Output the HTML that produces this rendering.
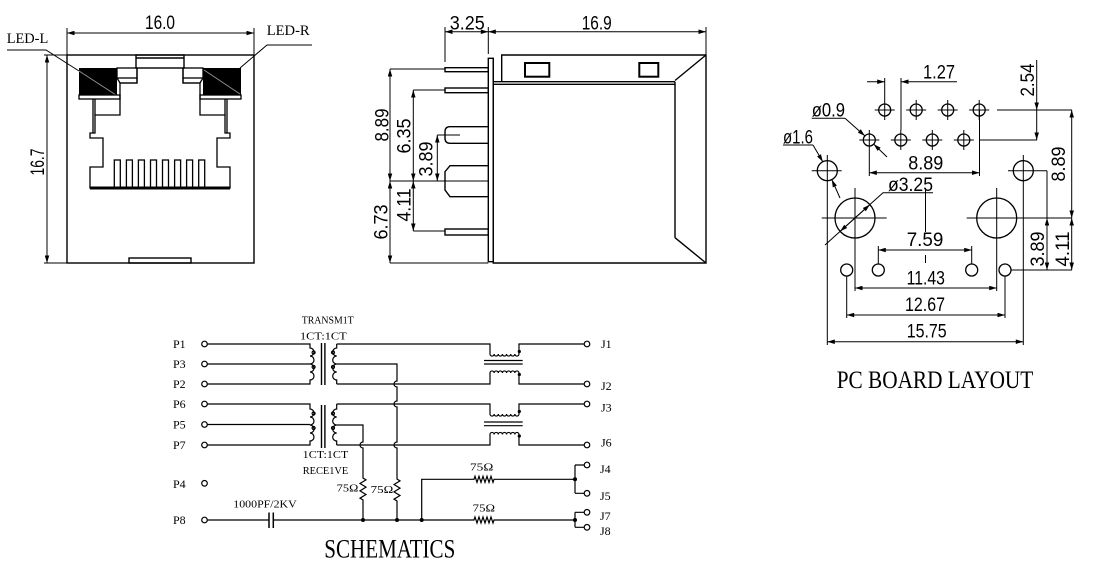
<!DOCTYPE html>
<html><head><meta charset="utf-8">
<style>
html,body{margin:0;padding:0;background:#fff;}
svg{display:block;}
.d{font-family:"Liberation Sans",sans-serif;font-size:19px;fill:#000;}
.s{font-family:"Liberation Serif",serif;fill:#000;}
</style></head><body>
<svg width="1117" height="573" viewBox="0 0 1117 573" xmlns="http://www.w3.org/2000/svg">
<defs>
<marker id="a" viewBox="0 0 10 6" refX="10" refY="3" markerWidth="9" markerHeight="4.5" markerUnits="userSpaceOnUse" orient="auto-start-reverse"><path d="M0,0L10,3L0,6z" fill="#000"/></marker>
</defs>
<rect width="1117" height="573" fill="#fff"/>

<!-- ================= FRONT VIEW ================= -->
<g fill="none" stroke="#000" stroke-width="1.4">
<rect x="67" y="55" width="187" height="208"/>
<rect x="136" y="55" width="48" height="13"/>
<line x1="136" y1="58" x2="184" y2="58"/>
<rect x="129" y="258" width="62" height="5"/>
</g>
<!-- leaders -->
<g fill="none" stroke="#000" stroke-width="1">
<path d="M7,50 H46 L79,71"/>
<path d="M312,45 H267 L240,68"/>
</g>
<!-- LEDs -->
<rect x="79" y="68" width="38" height="27" fill="#000"/>
<rect x="203" y="68" width="38" height="27" fill="#000"/>
<g fill="none" stroke="#999" stroke-width="0.8">
<path d="M79,71 L116,95"/>
<path d="M204,70 L240,94"/>
</g>
<g fill="none" stroke="#000" stroke-width="1.3">
<rect x="79" y="95" width="41" height="4"/>
<rect x="200" y="95" width="41" height="4"/>
<rect x="117" y="68" width="20" height="10"/>
<path d="M117,78 L120,83 H137 V78"/>
<rect x="183" y="68" width="20" height="10"/>
<path d="M203,78 L200,83 H183 V78"/>
<path d="M137,68 V83 H120 V115 H95 V133 H90 V138 H103 V167 H90 V188 H230 V167 H217 V138 H230 V133 H225 V115 H200 V83 H183 V68"/>
<path d="M93,99 V133 M95,99 V115 M227,99 V133 M225,99 V115"/>
<rect x="114.3" y="160" width="6" height="28"/>
<rect x="126.4" y="160" width="6" height="28"/>
<rect x="138.4" y="160" width="6" height="28"/>
<rect x="150.5" y="160" width="6" height="28"/>
<rect x="162.5" y="160" width="6" height="28"/>
<rect x="174.6" y="160" width="6" height="28"/>
<rect x="186.6" y="160" width="6" height="28"/>
<rect x="198.7" y="160" width="6" height="28"/>
</g>
<path d="M90,188 H230" stroke="#000" stroke-width="3"/>
<!-- front dims -->
<g fill="none" stroke="#000" stroke-width="1">
<path d="M67,28 V55 M254,28 V55 M44,55 H67 M44,263 H67"/>
<line x1="67" y1="33" x2="254" y2="33" marker-start="url(#a)" marker-end="url(#a)"/>
<line x1="47" y1="55" x2="47" y2="263" marker-start="url(#a)" marker-end="url(#a)"/>
</g>
<text class="d" x="160" y="29" text-anchor="middle" font-size="18" textLength="30" lengthAdjust="spacingAndGlyphs">16.0</text>
<text class="d" transform="translate(37.5,162) rotate(-90)" y="6.5" text-anchor="middle" font-size="18" textLength="27" lengthAdjust="spacingAndGlyphs">16.7</text>
<text class="s" x="6.7" y="43" font-size="15" textLength="41.6" lengthAdjust="spacingAndGlyphs">LED-L</text>
<text class="s" x="266.7" y="35" font-size="15" textLength="43" lengthAdjust="spacingAndGlyphs">LED-R</text>

<!-- ================= SIDE VIEW ================= -->
<g fill="none" stroke="#000" stroke-width="1.4">
<rect x="488.3" y="58.3" width="5" height="203.4"/>
<path d="M493.3,58.3 V263 H706 V55 H501.7 V81.7"/>
<path d="M493.3,81.7 H675 M493.3,84.3 H675"/>
<path d="M675,81.7 V237.7 M706,55 L675,80.5 M675,237.7 L706,263"/>
<rect x="525" y="63" width="24.3" height="13.7" stroke-width="2"/>
<rect x="639.3" y="63" width="19" height="13.7" stroke-width="2"/>
<rect x="445" y="67.7" width="43.3" height="4"/>
<rect x="445" y="88" width="43.3" height="4.7"/>
<path d="M488.3,126.7 H450 Q445,126.7 445,131.7 V138.3 Q445,143.3 450,143.3 H488.3"/>
<path d="M488.3,165.7 H450 L445,171.7 V190 L450,196.7 H488.3"/>
<rect x="445" y="229" width="43.3" height="6"/>
</g>
<g fill="none" stroke="#000" stroke-width="1">
<path d="M445,27 V62 M488.3,27 V54 M706,27 V55"/>
<line x1="445" y1="31.7" x2="488.3" y2="31.7" marker-start="url(#a)" marker-end="url(#a)"/>
<line x1="488.3" y1="31.7" x2="706" y2="31.7" marker-start="url(#a)" marker-end="url(#a)"/>
<path d="M390,69 H445 M413.3,90 H445 M437.3,135 H460 M390,181 H488.3 M413.3,231 H445 M390,263 H488.3"/>
<line x1="390" y1="69" x2="390" y2="181" marker-start="url(#a)" marker-end="url(#a)"/>
<line x1="390" y1="181" x2="390" y2="263" marker-start="url(#a)" marker-end="url(#a)"/>
<line x1="413.3" y1="90" x2="413.3" y2="181" marker-start="url(#a)" marker-end="url(#a)"/>
<line x1="413.3" y1="181" x2="413.3" y2="231" marker-start="url(#a)" marker-end="url(#a)"/>
<line x1="437.3" y1="135" x2="437.3" y2="181" marker-start="url(#a)" marker-end="url(#a)"/>
</g>
<text class="d" x="467.3" y="29.3" text-anchor="middle" textLength="35" lengthAdjust="spacingAndGlyphs">3.25</text>
<text class="d" x="596.7" y="29.3" text-anchor="middle" textLength="30" lengthAdjust="spacingAndGlyphs">16.9</text>
<text class="d" transform="translate(381.7,125) rotate(-90)" y="6.7" text-anchor="middle" textLength="33" lengthAdjust="spacingAndGlyphs">8.89</text>
<text class="d" transform="translate(404,136) rotate(-90)" y="6.7" text-anchor="middle" textLength="35" lengthAdjust="spacingAndGlyphs">6.35</text>
<text class="d" transform="translate(426,159) rotate(-90)" y="6.7" text-anchor="middle" textLength="35" lengthAdjust="spacingAndGlyphs">3.89</text>
<text class="d" transform="translate(404,205) rotate(-90)" y="6.7" text-anchor="middle" textLength="33" lengthAdjust="spacingAndGlyphs">4.11</text>
<text class="d" transform="translate(381,222) rotate(-90)" y="6.7" text-anchor="middle" textLength="35" lengthAdjust="spacingAndGlyphs">6.73</text>

<!-- ================= PCB LAYOUT ================= -->
<g fill="none" stroke="#000" stroke-width="1.3">
<circle cx="884.7" cy="110" r="6"/><circle cx="916.2" cy="110" r="6"/><circle cx="947.7" cy="110" r="6"/><circle cx="979.2" cy="110" r="6"/>
<circle cx="869.3" cy="140" r="6"/><circle cx="900.8" cy="140" r="6"/><circle cx="932.3" cy="140" r="6"/><circle cx="963.8" cy="140" r="6"/>
<circle cx="855" cy="218" r="20"/><circle cx="996.7" cy="218" r="20"/>
<circle cx="827.3" cy="170.7" r="10"/><circle cx="1023.3" cy="170.7" r="10"/>
<circle cx="846.7" cy="270" r="6"/><circle cx="878.3" cy="270" r="6"/><circle cx="971.7" cy="270" r="6"/><circle cx="1005" cy="270" r="6"/>
</g>
<g fill="none" stroke="#000" stroke-width="1">
<!-- crosshairs -->
<path d="M874.7,110 H894.7 M884.7,100 V120 M906.2,110 H926.2 M916.2,100 V120 M937.7,110 H957.7 M947.7,100 V120 M969.2,110 H989.2 M979.2,100 V120"/>
<path d="M859.3,140 H879.3 M869.3,130 V150 M890.8,140 H910.8 M900.8,130 V150 M922.3,140 H942.3 M932.3,130 V150 M953.8,140 H973.8 M963.8,130 V150"/>
<path d="M821.7,218 H886.7 M966.7,218 H1072 M855,188 V291 M996.7,188 V291"/>
<path d="M811.7,170.7 H841.7 M1008,170.7 H1047 M827.3,155 V345 M1023.3,155 V345"/>
<!-- ext lines -->
<path d="M884.7,78 V100 M901,78 V130 M997,110 H1072 M979.5,140 H1037 M979.5,110 V176 M869.3,150 V176"/>
<path d="M878.3,246 V264 M971.7,246 V264 M846.7,276 V318 M1005,276 V318 M1011,270 H1072"/>
<path d="M925.5,188 V232 M925.5,255 V263"/>
<!-- dims -->
<line x1="867" y1="81.7" x2="884.7" y2="81.7" marker-end="url(#a)"/>
<line x1="957" y1="81.7" x2="901" y2="81.7" marker-end="url(#a)"/>
<line x1="1036.7" y1="60" x2="1036.7" y2="110" marker-end="url(#a)"/>
<line x1="1036.7" y1="110" x2="1036.7" y2="140" marker-end="url(#a)"/>
<line x1="1071.7" y1="110" x2="1071.7" y2="218" marker-start="url(#a)" marker-end="url(#a)"/>
<line x1="1071.7" y1="218" x2="1071.7" y2="270" marker-start="url(#a)" marker-end="url(#a)"/>
<path d="M1047,170.7 V218"/>
<line x1="1047" y1="218" x2="1047" y2="270" marker-start="url(#a)" marker-end="url(#a)"/>
<line x1="869.3" y1="172.7" x2="979.5" y2="172.7" marker-start="url(#a)" marker-end="url(#a)"/>
<line x1="878.3" y1="250" x2="971.7" y2="250" marker-start="url(#a)" marker-end="url(#a)"/>
<line x1="855" y1="288" x2="996.7" y2="288" marker-start="url(#a)" marker-end="url(#a)"/>
<line x1="846.7" y1="315" x2="1005" y2="315" marker-start="url(#a)" marker-end="url(#a)"/>
<line x1="827.3" y1="341.7" x2="1023.3" y2="341.7" marker-start="url(#a)" marker-end="url(#a)"/>
<!-- leaders -->
<path d="M811.7,118.3 H845"/>
<line x1="845" y1="118.3" x2="864.9" y2="135.9" marker-end="url(#a)"/>
<line x1="887" y1="157" x2="873.7" y2="144.1" marker-end="url(#a)"/>
<path d="M783,145 H813"/>
<line x1="813" y1="145" x2="822.8" y2="161.8" marker-end="url(#a)"/>
<line x1="840" y1="198" x2="831.8" y2="179.6" marker-end="url(#a)"/>
<path d="M933,192.7 H883 L825,245"/>
<line x1="855" y1="218" x2="869.9" y2="204.6" marker-end="url(#a)"/>
<line x1="855" y1="218" x2="840.1" y2="231.4" marker-end="url(#a)"/>
</g>
<text class="d" x="939" y="78.3" text-anchor="middle" textLength="32" lengthAdjust="spacingAndGlyphs">1.27</text>
<text class="d" x="811.7" y="116.7" textLength="33.3" lengthAdjust="spacingAndGlyphs">ø0.9</text>
<text class="d" x="783" y="143.5" textLength="30" lengthAdjust="spacingAndGlyphs">ø1.6</text>
<text class="d" x="925.8" y="169.3" text-anchor="middle" textLength="35" lengthAdjust="spacingAndGlyphs">8.89</text>
<text class="d" x="888" y="191" textLength="45" lengthAdjust="spacingAndGlyphs">ø3.25</text>
<text class="d" x="925" y="246" text-anchor="middle" textLength="36.6" lengthAdjust="spacingAndGlyphs">7.59</text>
<text class="d" x="925.8" y="284.3" text-anchor="middle" textLength="38.3" lengthAdjust="spacingAndGlyphs">11.43</text>
<text class="d" x="925" y="311" text-anchor="middle" textLength="40" lengthAdjust="spacingAndGlyphs">12.67</text>
<text class="d" x="926.7" y="337.7" text-anchor="middle" textLength="40" lengthAdjust="spacingAndGlyphs">15.75</text>
<text class="d" transform="translate(1027.3,80) rotate(-90)" y="6.7" text-anchor="middle" textLength="33" lengthAdjust="spacingAndGlyphs">2.54</text>
<text class="d" transform="translate(1058.3,164) rotate(-90)" y="6.7" text-anchor="middle" textLength="35" lengthAdjust="spacingAndGlyphs">8.89</text>
<text class="d" transform="translate(1037.3,249) rotate(-90)" y="6.7" text-anchor="middle" textLength="35" lengthAdjust="spacingAndGlyphs">3.89</text>
<text class="d" transform="translate(1062.5,249) rotate(-90)" y="6.7" text-anchor="middle" textLength="35" lengthAdjust="spacingAndGlyphs">4.11</text>
<text class="s" x="836.7" y="388" font-size="25" textLength="196.6" lengthAdjust="spacingAndGlyphs">PC BOARD LAYOUT</text>

<!-- ================= SCHEMATIC ================= -->
<g fill="none" stroke="#000" stroke-width="1.2">
<!-- P terminals -->
<circle cx="204.5" cy="344" r="2.8"/><circle cx="204.5" cy="364" r="2.8"/><circle cx="204.5" cy="384" r="2.8"/>
<circle cx="204.5" cy="404" r="2.8"/><circle cx="204.5" cy="424.5" r="2.8"/><circle cx="204.5" cy="445" r="2.8"/>
<circle cx="204.5" cy="483.3" r="2.8"/><circle cx="204.5" cy="520" r="2.8"/>
<!-- transformer 1 primary -->
<path d="M207.3,344 H310 V348 a4,4 0 0 1 0,8 a4,4 0 0 1 0,8 a4,4 0 0 1 0,8 a4,4 0 0 1 0,8 V384 H207.3"/>
<path d="M207.3,364 H310"/>
<!-- transformer 1 secondary -->
<path d="M336.7,344 V348 a4,4 0 0 0 0,8 a4,4 0 0 0 0,8 a4,4 0 0 0 0,8 a4,4 0 0 0 0,8 V384"/>
<path d="M321.5,343 V385 M324.9,343 V385" stroke-width="1.4"/>
<circle cx="313.6" cy="352.5" r="1.5"/><circle cx="313.6" cy="367" r="1.5"/>
<circle cx="333" cy="352.5" r="1.5"/><circle cx="333" cy="367" r="1.5"/>
<!-- transformer 2 primary -->
<path d="M207.3,404 H310 V409 a4,4 0 0 1 0,8 a4,4 0 0 1 0,8 a4,4 0 0 1 0,8 a4,4 0 0 1 0,8 V445 H207.3"/>
<path d="M207.3,424.5 H310"/>
<path d="M336.7,404 V409 a4,4 0 0 0 0,8 a4,4 0 0 0 0,8 a4,4 0 0 0 0,8 a4,4 0 0 0 0,8 V445"/>
<path d="M321.5,405 V448 M324.9,405 V448" stroke-width="1.4"/>
<circle cx="313.6" cy="413.5" r="1.5"/><circle cx="313.6" cy="428" r="1.5"/>
<circle cx="333" cy="413.5" r="1.5"/><circle cx="333" cy="428" r="1.5"/>
<!-- choke 1 -->
<path d="M336.7,344 H490 V354 a2.07,2.07 0 0 0 4.14,0 a2.07,2.07 0 0 0 4.14,0 a2.07,2.07 0 0 0 4.14,0 a2.07,2.07 0 0 0 4.14,0 a2.07,2.07 0 0 0 4.14,0 a2.07,2.07 0 0 0 4.14,0 a2.07,2.07 0 0 0 4.14,0 V344 H584.2"/>
<path d="M336.7,384 H490 V373 a2.07,2.07 0 0 1 4.14,0 a2.07,2.07 0 0 1 4.14,0 a2.07,2.07 0 0 1 4.14,0 a2.07,2.07 0 0 1 4.14,0 a2.07,2.07 0 0 1 4.14,0 a2.07,2.07 0 0 1 4.14,0 a2.07,2.07 0 0 1 4.14,0 V384 H584.2"/>
<path d="M484,360.5 H522.7 M484,364 H522.7"/>
<!-- choke 2 -->
<path d="M336.7,404 H490 V414 a2.07,2.07 0 0 0 4.14,0 a2.07,2.07 0 0 0 4.14,0 a2.07,2.07 0 0 0 4.14,0 a2.07,2.07 0 0 0 4.14,0 a2.07,2.07 0 0 0 4.14,0 a2.07,2.07 0 0 0 4.14,0 a2.07,2.07 0 0 0 4.14,0 V404 H584.2"/>
<path d="M336.7,445 H490 V434.5 a2.07,2.07 0 0 1 4.14,0 a2.07,2.07 0 0 1 4.14,0 a2.07,2.07 0 0 1 4.14,0 a2.07,2.07 0 0 1 4.14,0 a2.07,2.07 0 0 1 4.14,0 a2.07,2.07 0 0 1 4.14,0 a2.07,2.07 0 0 1 4.14,0 V445 H584.2"/>
<path d="M484,422 H522.7 M484,425.7 H522.7"/>
<!-- center-tap wires with hops -->
<path d="M336.7,364 H397 V381 a3,3 0 0 0 0,6 V401 a3,3 0 0 0 0,6 V442 a3,3 0 0 0 0,6 V479 l3,1.83 l-6,3.67 l6,3.67 l-6,3.67 l6,3.67 l-6,3.67 l3,1.83 V520"/>
<path d="M336.7,425 H363 V442 a3,3 0 0 0 0,6 V478 l3,1.83 l-6,3.67 l6,3.67 l-6,3.67 l6,3.67 l-6,3.67 l3,1.83 V520"/>
<!-- P8 line & capacitor -->
<path d="M207.3,520 H269 M273.3,520 H474 l1,-3 l2,6 l2,-6 l2,6 l2,-6 l2,6 l2,-6 l2,6 l2,-6 l2,6 l1,-3 H575"/>
<path d="M269,512.5 V528 M273.3,512.5 V528" stroke-width="1.5"/>
<path d="M421.7,520 V479.3 H474 l1,-3 l2,6 l2,-6 l2,6 l2,-6 l2,6 l2,-6 l2,6 l2,-6 l2,6 l1,-3 H575"/>
<path d="M575,465 V493.3 M575,465 H584.2 M575,493.3 H584.2"/>
<path d="M575,512.3 V527.3 M575,512.3 H584.2 M575,527.3 H584.2"/>
<!-- J terminals -->
<circle cx="587" cy="344" r="2.8"/><circle cx="587" cy="384" r="2.8"/><circle cx="587" cy="404" r="2.8"/><circle cx="587" cy="445" r="2.8"/>
<circle cx="587" cy="465" r="2.8"/><circle cx="587" cy="493.3" r="2.8"/><circle cx="587" cy="512.3" r="2.8"/><circle cx="587" cy="527.3" r="2.8"/>
</g>
<g fill="#000">
<circle cx="519.3" cy="351.5" r="1.6"/><circle cx="519.3" cy="374.5" r="1.6"/>
<circle cx="519.3" cy="411.5" r="1.6"/><circle cx="519.3" cy="436" r="1.6"/>
<circle cx="363" cy="520" r="2"/><circle cx="397" cy="520" r="2"/><circle cx="421.7" cy="520" r="2"/>
<circle cx="575" cy="479.3" r="2"/><circle cx="575" cy="520" r="2"/>
</g>
<g class="s" font-size="12">
<text x="173" y="348">P1</text>
<text x="173" y="368">P3</text>
<text x="173" y="388">P2</text>
<text x="173" y="408">P6</text>
<text x="173" y="428.5">P5</text>
<text x="173" y="449">P7</text>
<text x="173" y="488">P4</text>
<text x="173" y="524">P8</text>
<text x="601" y="348">J1</text>
<text x="601" y="390">J2</text>
<text x="601" y="411.7">J3</text>
<text x="601" y="446.7">J6</text>
<text x="600" y="473">J4</text>
<text x="600" y="500">J5</text>
<text x="600" y="520">J7</text>
<text x="600" y="535">J8</text>
</g>
<g class="s" font-size="11">
<text x="301.7" y="323.3" textLength="52" lengthAdjust="spacingAndGlyphs">TRANSM1T</text>
<text x="300" y="339.3" textLength="46.7" lengthAdjust="spacingAndGlyphs">1CT:1CT</text>
<text x="302.7" y="458" textLength="45.6" lengthAdjust="spacingAndGlyphs">1CT:1CT</text>
<text x="302.7" y="474" textLength="45.6" lengthAdjust="spacingAndGlyphs">RECE1VE</text>
<text x="336.7" y="491.7" textLength="21.6" lengthAdjust="spacingAndGlyphs">75Ω</text>
<text x="370.7" y="493" textLength="22.6" lengthAdjust="spacingAndGlyphs">75Ω</text>
<text x="470" y="470.7" textLength="23.3" lengthAdjust="spacingAndGlyphs">75Ω</text>
<text x="472.7" y="511.7" textLength="22.3" lengthAdjust="spacingAndGlyphs">75Ω</text>
<text x="233.3" y="507.3" textLength="63.4" lengthAdjust="spacingAndGlyphs">1000PF/2KV</text>
</g>
<text class="s" x="324.3" y="557.3" font-size="26" textLength="131" lengthAdjust="spacingAndGlyphs">SCHEMATICS</text>
</svg>
</body></html>
